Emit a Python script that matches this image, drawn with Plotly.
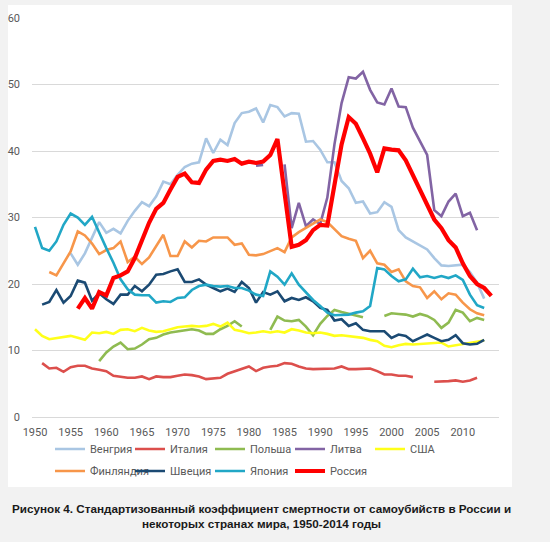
import plotly.graph_objects as go

years = list(range(1950, 2015))
N = None

hungary = [N, N, N, N, N,
           24.6, 22.9, 24.6, 27.0, 29.3, 27.7, 28.3, 27.6, 29.5, 31.0,
           32.3, 31.7, 33.2, 35.4, 35.0, 36.4, 37.6, 38.1, 38.3, 41.9,
           39.7, 41.7, 40.9, 44.2, 45.7, 45.9, 46.4, 44.3, 46.9, 46.6,
           45.2, 45.7, 45.6, 41.4, 41.5, 40.2, 38.3, 38.3, 35.5, 34.4,
           32.2, 32.4, 30.6, 30.8, 32.3, 31.6, 28.1, 27.0, 26.4, 25.9,
           25.2, 23.9, 22.8, 22.7, 22.8, 22.9, 21.8, 20.2, 17.8, N]
italy = [N, 8.1, 7.3, 7.4, 6.8, 7.5, 7.7, 7.7, 7.3, 7.1,
         6.9, 6.2, 6.0, 5.9, 5.9, 6.1, 5.7, 6.1, 6.0, 6.0,
         6.2, 6.4, 6.3, 6.1, 5.7, 5.8, 5.9, 6.5, 6.9, 7.3,
         7.6, 6.9, 7.4, 7.6, 7.7, 8.1, 8.0, 7.6, 7.3, 7.2,
         7.2, 7.2, 7.3, 7.6, 7.2, 7.2, 7.3, 7.3, 6.9, 6.4,
         6.4, 6.2, 6.2, 6.0, N, N, 5.3, 5.3, 5.4, 5.5,
         5.3, 5.5, 5.9, N, N]
poland = [N, N, N, N, N, N, N, N, N, 8.4,
          9.7, 10.6, 11.2, 10.2, 10.3, 10.9, 11.7, 11.9, 12.4, 12.7,
          12.9, 13.0, 13.2, 13.0, 12.5, 12.5, 13.2, 13.7, 14.4, 13.6,
          N, N, N, 13.1, 15.1, 14.5, 14.4, 14.6, 13.6, 12.3,
          14.0, 15.2, 16.1, 15.8, 15.5, 15.3, 15.0, N, N, 15.2,
          15.6, 15.5, 15.4, 15.1, 15.5, 15.2, 14.6, 13.4, 14.2, 16.1,
          15.7, 14.4, 14.9, 14.6, N]
lithuania = [N] * 31 + [37.8, 37.9, N, N, 38.0, 28.4, 32.2, 28.7, 29.7,
                        29.0, 33.0, 41.0, 47.2, 51.1, 50.9, 51.9, 49.2, 47.3, 47.0,
                        49.4, 46.7, 46.6, 43.5, 41.5, 39.4, 31.1, 30.2, 32.4, 33.6,
                        30.2, 30.7, 28.1, N, N]
usa = [13.2, 12.2, 11.7, 11.9, 12.0, 12.2, 11.9, 11.6, 12.7, 12.6,
       12.8, 12.5, 13.1, 13.2, 12.9, 13.4, 13.0, 12.8, 12.9, 13.2,
       13.5, 13.6, 13.7, 13.6, 13.7, 14.0, 13.6, 14.2, 13.1, 12.9,
       12.6, 12.7, 12.9, 12.7, 12.9, 12.7, 13.2, 13.0, 12.7, 12.6,
       12.7, 12.5, 12.2, 12.3, 12.2, 12.1, 11.9, 11.6, 11.4, 10.7,
       10.5, 10.8, 11.0, 10.9, 11.0, 11.0, 11.1, 11.2, 10.6, 10.8,
       11.0, 11.2, 11.4, 11.5, N]
finland = [N, N, 21.8, 21.3, 23.1, 24.9, 27.9, 27.3, 26.1, 24.5,
           25.1, 25.4, 26.4, 23.3, 24.1, 23.0, 24.0, 25.8, 27.4, 24.2,
           24.2, 26.4, 25.5, 26.5, 26.4, 27.0, 27.0, 27.0, 25.9, 26.1,
           24.4, 24.3, 24.5, 24.9, 25.4, 24.8, 27.0, 27.8, 28.4, 29.0,
           29.7, 29.3, 28.2, 27.2, 26.8, 26.5, 23.9, 25.0, 23.1, 22.9,
           21.8, 22.2, 20.4, 19.7, 19.5, 17.9, 18.9, 17.7, 18.6, 18.4,
           17.2, 16.2, 15.6, 15.3, N]
sweden = [N, 16.9, 17.3, 19.1, 17.2, 18.2, 20.5, 20.2, 17.5, 18.6,
          17.7, 17.0, 18.4, 18.4, 19.7, 18.9, 19.9, 21.4, 21.5, 21.9,
          22.2, 20.3, 20.3, 20.7, 19.9, 19.4, 18.9, 19.3, 18.8, 20.3,
          19.4, 17.2, 18.8, 18.4, 18.9, 17.4, 17.9, 17.6, 18.0, 17.4,
          16.4, 16.1, 14.5, 14.7, 13.7, 14.1, 13.1, 12.9, 12.9, 12.9,
          11.9, 12.4, 12.2, 11.4, 11.9, 12.4, 11.9, 11.4, 11.6, 12.3,
          11.1, 10.9, 11.0, 11.6, N]
japan = [28.6, 25.4, 25.0, 26.4, 28.9, 30.6, 30.0, 28.9, 30.1, 27.7,
         25.4, 23.2, 20.7, 19.2, 18.4, 18.3, 18.3, 17.2, 17.4, 17.3,
         17.9, 18.0, 19.1, 19.7, 19.9, 19.7, 19.6, 19.7, 19.4, 19.4,
         19.0, 18.4, 18.2, 21.9, 21.1, 19.9, 21.6, 19.9, 18.8, 17.6,
         16.7, 15.7, 15.3, 15.4, 15.4, 15.7, 15.9, 16.7, 22.4, 22.2,
         21.2, 20.4, 20.7, 22.3, 21.0, 21.2, 20.9, 21.2, 20.9, 21.3,
         20.6, 18.4, 16.8, 16.4, N]
russia = [N, N, N, N, N, N, 16.3, 17.9, 16.3, 18.8,
          18.3, 20.9, 21.3, 21.9, 23.9, 26.7, 29.2, 31.3, 32.2, 34.2,
          36.1, 36.6, 35.3, 35.2, 37.2, 38.5, 38.7, 38.5, 38.8, 38.1,
          38.4, 38.2, 38.4, 39.4, 41.8, 33.7, 25.6, 25.9, 26.6, 28.1,
          28.9, 28.8, 34.8, 41.0, 45.1, 44.1, 41.9, 39.6, 36.8, 40.4,
          40.2, 40.1, 38.6, 36.4, 34.3, 32.0, 29.7, 28.4, 26.6, 25.5,
          23.1, 21.2, 20.0, 19.4, 18.2]

names = ["Венгрия", "Италия", "Польша", "Литва", "США",
         "Финляндия", "Швеция", "Япония", "Россия"]
series = [hungary, italy, poland, lithuania, usa, finland, sweden, japan, russia]
colors = ["#a9c6e3", "#dc4f4c", "#8fbb51", "#8264a4", "#ffff1a",
          "#f7964a", "#1b4a73", "#21a7c6", "#ff0000"]
widths = [2.6, 2.6, 2.6, 2.6, 2.6, 2.6, 2.6, 2.6, 4.2]
tick_years = list(range(1950, 2011, 5))

fig = go.Figure()
for i, (nm, vals) in enumerate(zip(names, series)):
    fig.add_trace(go.Scatter(
        x=years, y=vals, name=nm, mode="lines",
        line=dict(color=colors[i], width=widths[i]),
        connectgaps=False,
        legend="legend" if i < 5 else "legend2",
    ))

W, H = 550, 542
L, R, T, B = 32, 51, 18, 125
pw, ph = W - L - R, H - T - B


def px2x(px):
    return (px - L) / pw


def py2y(py):
    return (H - B - py) / ph


fig.add_shape(type="rect", xref="paper", yref="paper",
              x0=px2x(8), x1=px2x(512), y0=py2y(487), y1=py2y(5),
              fillcolor="white", line=dict(width=0), layer="below")

legend_common = dict(orientation="h", xanchor="left", yanchor="middle",
                     entrywidth=35, entrywidthmode="pixels",
                     font=dict(family="Roboto", size=11, color="#595959"),
                     bgcolor="rgba(0,0,0,0)", tracegroupgap=0,
                     itemclick=False)

fig.update_layout(
    width=W, height=H,
    margin=dict(l=L, r=R, t=T, b=B, autoexpand=False),
    paper_bgcolor="#f2f2f2", plot_bgcolor="white",
    font=dict(family="Roboto", color="#595959", size=11),
    showlegend=True,
    legend=dict(x=px2x(50), y=py2y(449), **legend_common),
    legend2=dict(x=px2x(50), y=py2y(471), **legend_common),
    xaxis=dict(range=[1950 - 3 / 7.13, 1950 + 464 / 7.13],
               tickvals=tick_years, showgrid=False, zeroline=False,
               showline=False, ticks="", ticklabelstandoff=7,
               tickfont=dict(size=11, color="#595959")),
    yaxis=dict(range=[0, 60], dtick=10, showgrid=True,
               gridcolor="#d9d9d9", gridwidth=1, zeroline=True,
               zerolinecolor="#d9d9d9", zerolinewidth=1,
               showline=False, ticks="", ticklabelstandoff=11,
               tickfont=dict(size=11, color="#595959")),
    annotations=[dict(
        xref="paper", yref="paper", x=px2x(261), y=py2y(516),
        xanchor="center", yanchor="middle", showarrow=False, align="center",
        text="<b>Рисунок 4. Стандартизованный коэффициент смертности от самоубийств в России и</b><br>"
             "<b>некоторых странах мира, 1950-2014 годы</b>",
        font=dict(family="Liberation Sans", size=11.7, color="#1a1a1a"))],
)

fig.write_html("out.html",
               config={"displayModeBar": False},
               post_script="document.body.style.margin='0';document.body.style.overflow='hidden';")
